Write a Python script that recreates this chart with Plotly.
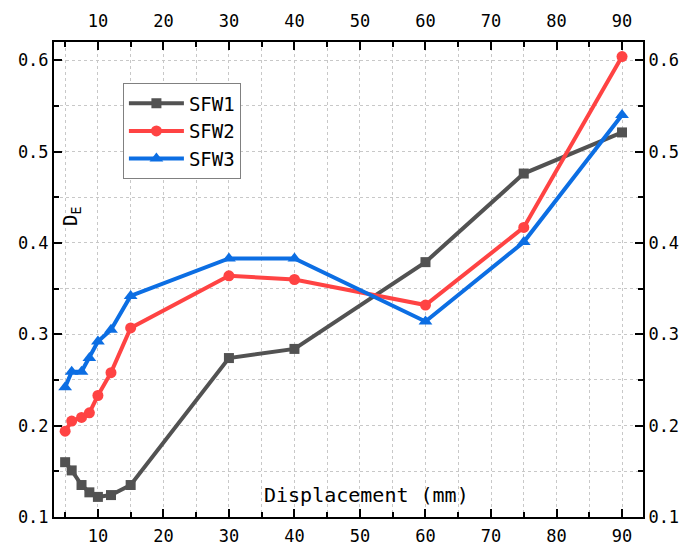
import plotly.graph_objects as go

displacement = [5, 6, 7.5, 8.7, 10, 12, 15, 30, 40, 60, 75, 90]
sfw1 = [0.160, 0.151, 0.135, 0.127, 0.122, 0.124, 0.135, 0.274, 0.284, 0.379, 0.476, 0.521]
sfw2 = [0.194, 0.205, 0.209, 0.214, 0.233, 0.258, 0.307, 0.364, 0.360, 0.332, 0.417, 0.604]
sfw3 = [0.242, 0.259, 0.259, 0.274, 0.292, 0.305, 0.342, 0.383, 0.383, 0.314, 0.401, 0.540]
series_names = ["SFW1", "SFW2", "SFW3"]
x_title = "Displacement (mm)"
y_title = "D<sub>E</sub>"

colors = ["#525252", "#FF4343", "#0C6EE3"]
symbols = ["square", "circle", "triangle-up"]
msizes = [10, 11, 12]

MONO = "DejaVu Sans Mono"
fig = go.Figure()
for name, vals, c, s, ms in zip(series_names, [sfw1, sfw2, sfw3], colors, symbols, msizes):
    fig.add_trace(go.Scatter(x=displacement, y=vals, name=name, mode="lines+markers",
                             line=dict(color=c, width=4),
                             marker=dict(symbol=s, size=ms, color=c)))
# invisible trace to show the mirrored axes
fig.add_trace(go.Scatter(x=[displacement[0]], y=[sfw1[0]], xaxis="x2", yaxis="y2",
                         showlegend=False, hoverinfo="skip", mode="markers",
                         marker=dict(size=1, opacity=0)))

XR = [3.3, 93.2]
YR = [0.1, 0.62]
grid = dict(showgrid=True, gridcolor="#c8c8c8", gridwidth=1, griddash="dot")
common_x = dict(range=XR, dtick=10, tick0=0, ticks="inside", ticklen=8, tickwidth=2,
                tickcolor="black", showline=True, linecolor="black", linewidth=2,
                zeroline=False, automargin=False,
                tickfont=dict(family=MONO, size=17, color="black"))
common_y = dict(range=YR, dtick=0.1, tick0=0, ticks="inside", ticklen=8, tickwidth=2,
                tickcolor="black", showline=True, linecolor="black", linewidth=2,
                zeroline=False, tickformat=".1f", automargin=False,
                tickfont=dict(family=MONO, size=17, color="black"))

fig.update_layout(
    width=683, height=545,
    margin=dict(l=54, r=40, t=42, b=28, autoexpand=False),
    plot_bgcolor="white", paper_bgcolor="white",
    xaxis=dict(**common_x, **grid, side="bottom", ticklabelstandoff=3,
               minor=dict(dtick=5, tick0=0, ticks="inside", ticklen=5, tickwidth=1.5,
                          tickcolor="black", showgrid=True, gridcolor="#c8c8c8",
                          griddash="dot", gridwidth=1)),
    yaxis=dict(**common_y, **grid, side="left",
               minor=dict(dtick=0.05, tick0=0, ticks="inside", ticklen=5, tickwidth=1.5,
                          tickcolor="black", showgrid=True, gridcolor="#c8c8c8",
                          griddash="dot", gridwidth=1)),
    xaxis2=dict(**common_x, overlaying="x", side="top", showgrid=False,
                ticklabelstandoff=6,
                minor=dict(dtick=5, tick0=0, ticks="inside", ticklen=5, tickwidth=1.5,
                           tickcolor="black")),
    yaxis2=dict(**common_y, overlaying="y", side="right", showgrid=False,
                minor=dict(dtick=0.05, tick0=0, ticks="inside", ticklen=5, tickwidth=1.5,
                           tickcolor="black")),
    legend=dict(x=0.117, y=0.913, xanchor="left", yanchor="top",
                bgcolor="white", bordercolor="#808080", borderwidth=1,
                font=dict(family=MONO, size=19, color="black"), itemwidth=55,
                tracegroupgap=0),
    showlegend=True,
)
fig.add_annotation(text=x_title, xref="paper", yref="paper", x=0.53, y=0.0,
                   yanchor="bottom", yshift=8, showarrow=False,
                   font=dict(family=MONO, size=20, color="black"))
fig.add_annotation(text=y_title, xref="paper", yref="paper", x=0.031, y=0.632,
                   xanchor="center", textangle=-90, showarrow=False,
                   font=dict(family=MONO, size=19, color="black"))
fig.write_html("out.html")
